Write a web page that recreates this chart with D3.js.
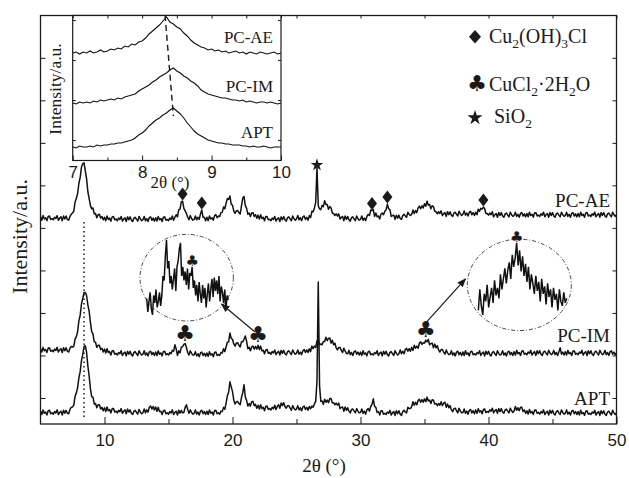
<!DOCTYPE html>
<html>
<head>
<meta charset="utf-8">
<script src="https://cdnjs.cloudflare.com/ajax/libs/d3/7.8.5/d3.min.js"></script>
<style>
    body { margin: 0; background: #fff; }
    svg { display: block; }
</style>
</head>
<body>
<svg id="chart" width="629" height="478"></svg>
<script>
// XRD patterns, 2theta grid 5..50 step 0.1, intensity in a.u. (curves stacked)
var thetaStart = 5, thetaStep = 0.1;
var aptCounts = [
    -31,-39,-28,-36,-33,-40,-30,-29,-37,-35, -38,-32,-35,-28,-39,-34,-31,-40,-29,-36,
    -29,-36,-37,-27,-22,-21,-17,4,12,24, 48,62,88,102,121,123,108,75,52,22,
    3,2,-14,-13,-23,-16,-16,-26,-22,-30, -23,-32,-21,-30,-27,-35,-25,-25,-33,-31,
    -35,-29,-32,-25,-36,-31,-28,-37,-26,-33, -28,-36,-39,-31,-29,-34,-38,-27,-33,-37,
    -35,-26,-35,-28,-33,-22,-19,-26,-20,-28, -21,-31,-22,-32,-31,-39,-30,-29,-37,-35,
    -38,-32,-35,-28,-39,-34,-31,-40,-29,-36, -29,-35,-34,-22,-16,-27,-36,-28,-34,-38,
    -36,-28,-38,-33,-40,-31,-29,-37,-32,-39, -31,-39,-28,-36,-33,-40,-30,-29,-37,-35,
    -38,-31,-32,-22,-27,-12,5,14,38,26, 15,-5,-14,-9,-8,-13,-16,1,12,31,
    3,-6,-19,-13,-19,-9,-8,-18,-15,-24, -17,-26,-16,-25,-22,-30,-20,-19,-27,-25,
    -28,-22,-25,-17,-27,-20,-16,-24,-12,-18, -11,-20,-24,-18,-18,-24,-29,-18,-24,-28,
    -26,-18,-28,-23,-30,-21,-19,-27,-22,-29, -20,-25,-19,-22,-14,-8,40,273,30,-8,
    -7,-15,-3,-10,-5,-11,-1,-1,-11,-11, -16,-12,-17,-12,-25,-22,-21,-31,-21,-29,
    -23,-31,-35,-27,-26,-31,-35,-25,-31,-35, -34,-26,-36,-31,-38,-28,-25,-31,-20,-15,
    -2,-20,-22,-34,-32,-40,-30,-30,-38,-36, -39,-33,-36,-29,-40,-35,-32,-41,-30,-37,
    -30,-38,-41,-32,-29,-33,-35,-22,-25,-25, -20,-9,-17,-10,-16,-6,-3,-10,-4,-10,
    -2,-9,2,-7,-5,-13,-4,-5,-14,-13, -18,-13,-17,-9,-18,-12,-10,-22,-14,-23,
    -18,-28,-32,-25,-24,-30,-35,-24,-31,-35, -34,-26,-36,-31,-38,-29,-27,-35,-30,-37,
    -28,-36,-25,-33,-30,-37,-27,-26,-34,-32, -34,-28,-31,-24,-35,-30,-27,-36,-25,-32,
    -25,-33,-36,-28,-26,-31,-35,-24,-30,-34, -30,-20,-29,-23,-30,-22,-22,-32,-28,-36,
    -30,-38,-27,-35,-32,-39,-29,-28,-36,-34, -38,-32,-35,-28,-39,-34,-31,-40,-29,-36,
    -29,-37,-40,-32,-30,-35,-39,-28,-34,-38, -36,-28,-38,-33,-40,-31,-29,-37,-32,-39,
    -32,-40,-29,-37,-34,-41,-31,-30,-38,-36, -39,-33,-36,-29,-40,-35,-32,-41,-30,-37,
    -30,-38,-41,-33,-31,-36,-40,-29,-35,-39, -35
];
var pcimCounts = [
    116,108,119,111,114,107,117,118,110,112, 109,115,112,119,108,113,116,107,118,111,
    118,110,108,117,121,120,121,139,144,156, 182,195,221,234,248,248,241,219,204,178,
    156,151,132,131,119,124,124,114,117,108, 115,106,116,107,109,101,111,111,103,105,
    101,107,104,111,100,105,108,99,110,103, 110,102,99,107,109,104,100,111,105,101,
    103,111,101,106,99,108,110,102,107,100, 108,100,111,103,106,99,109,110,102,104,
    101,107,104,112,110,125,115,100,111,106, 119,121,126,128,119,107,101,111,105,101,
    101,109,99,104,97,106,108,100,105,98, 106,98,109,101,104,97,107,108,100,102,
    100,107,106,116,109,120,131,132,153,140, 138,127,122,129,130,124,120,132,132,138,
    146,134,116,119,111,120,122,115,121,115, 124,114,122,111,112,104,113,114,105,107,
    103,109,106,113,102,107,110,101,112,105, 112,104,101,109,111,106,102,113,107,103,
    105,113,103,108,102,111,114,107,113,107, 116,109,122,116,122,119,134,137,125,127,
    125,133,133,143,135,140,141,129,136,125, 129,118,113,119,119,112,107,117,110,105,
    104,112,102,107,100,109,111,103,108,101, 108,100,111,103,106,99,109,110,102,104,
    101,107,104,111,100,105,108,99,110,103, 110,102,99,107,109,104,100,111,105,101,
    104,113,104,110,104,114,117,110,116,110, 119,112,124,117,122,117,129,132,126,130,
    129,136,132,138,125,128,129,118,127,118, 123,113,108,114,114,108,103,113,106,102,
    103,111,101,106,99,108,110,102,107,100, 108,100,111,103,106,99,109,110,102,104,
    101,107,104,111,100,105,108,99,110,103, 110,102,99,107,109,104,100,111,105,101,
    103,111,101,106,99,108,110,102,107,100, 109,101,112,104,107,100,110,111,103,105,
    102,108,105,112,101,106,109,100,111,104, 111,103,100,108,110,105,101,112,106,102,
    104,112,102,107,100,109,118,103,108,101, 109,101,112,104,107,100,110,111,103,105,
    102,108,105,112,101,106,109,100,111,104, 111,103,100,108,110,105,101,112,106,102,
    104,112,102,107,100,109,111,103,108,101, 106
];
var pcaeCounts = [
    426,418,429,421,424,417,427,428,420,422, 419,425,422,429,418,423,426,417,428,421,
    428,420,418,427,432,435,439,461,469,481, 505,519,543,551,553,534,516,485,469,453,
    445,447,433,434,424,431,432,423,427,419, 425,417,428,420,423,416,426,427,419,421,
    417,423,420,427,416,421,424,415,426,419, 426,418,415,423,425,420,416,427,421,417,
    419,427,417,422,415,424,426,418,423,416, 424,416,427,419,422,415,425,426,418,420,
    417,423,420,428,418,425,431,426,443,444, 461,463,446,440,434,425,419,429,422,418,
    420,428,419,425,420,433,442,425,425,417, 425,417,428,421,424,418,429,431,424,428,
    427,436,437,449,445,458,469,467,475,456, 453,440,434,440,441,436,433,451,470,474,
    453,446,432,435,427,435,436,427,431,423, 430,421,431,422,425,417,427,427,419,420,
    417,423,420,427,416,421,424,415,426,419, 427,419,416,424,426,421,417,428,422,418,
    421,429,419,424,417,426,428,420,425,418, 429,424,439,438,447,460,541,452,445,443,
    453,450,464,455,455,444,450,447,435,434, 429,433,428,433,421,425,427,417,428,420,
    427,419,416,424,426,421,417,428,422,418, 420,428,418,423,417,427,432,429,442,441,
    443,427,435,426,428,421,432,435,431,439, 443,456,445,443,427,429,430,420,430,423,
    430,422,420,429,432,428,425,437,432,429, 432,442,434,441,436,447,451,445,452,447,
    457,451,463,454,455,445,452,450,439,438, 433,438,434,440,429,433,436,427,438,431,
    438,430,427,435,437,432,428,439,433,429, 432,440,430,435,428,437,439,431,436,429,
    437,431,444,439,446,444,449,445,434,434, 430,435,431,438,426,431,434,425,436,429,
    436,428,425,433,435,430,426,437,431,427, 429,437,427,432,425,434,436,428,433,426,
    434,426,437,429,432,425,435,436,428,430, 427,433,430,437,426,431,434,425,436,429,
    436,428,425,433,435,430,426,437,431,427, 429,437,427,432,425,434,436,428,433,426,
    434,426,437,429,432,425,435,436,428,430, 427,433,430,437,426,431,434,425,436,429,
    436,428,425,433,435,430,426,437,431,427, 431
];
var seriesLabels = ["PC-AE", "PC-IM", "APT"];
var xTicks = [10, 20, 30, 40, 50];
var xMinorTicks = [15, 25, 35, 45];
var yTicks = [0, 100, 200, 300, 400, 500, 600, 700, 800];

// inset: 7..10 deg, step 0.05
var insetStart = 7, insetStep = 0.05;
var insetAE = [
    107,108,106,108,107,109,107,108,110,108, 109,111,110,112,111,114,113,116,115,118,
    119,122,126,129,132,135,139,143,138,136, 133,131,127,124,120,117,115,113,112,110,
    111,109,110,108,109,107,108,109,107,108, 106,108,107,106,108,107,106,107,108,106,107
];
var insetIM = [
    57,56,58,57,58,57,59,58,60,59, 60,61,60,62,61,63,64,65,66,69,
    71,73,75,78,80,83,85,87,90,92, 89,87,84,82,79,77,74,70,68,66,
    65,64,63,62,62,61,60,60,59,60, 58,59,58,57,58,58,57,58,57,56,57
];
var insetAPT = [
    13,12,14,13,13,14,13,15,14,15, 15,16,16,17,17,18,19,20,22,25,
    27,30,34,37,40,42,45,47,50,52, 49,46,42,37,33,29,26,24,22,20,
    19,18,17,17,16,16,15,15,15,14, 14,13,14,13,13,14,13,12,13,13,13
];
var insetTicks = [7, 8, 9, 10];
var insetMinorTicks = [7.5, 8.5, 9.5];
var peakShift = [[8.33, 145], [8.45, 44]];

// phase marks
var diamondPeaks = [16.1, 17.6, 30.9, 32.1, 39.6];   // Cu2(OH)3Cl, PC-AE
var starPeaks = [26.6];                               // SiO2, PC-AE
var clubPeaks = [16.3, 22.0, 35.1];                   // CuCl2.2H2O, PC-IM

// magnified parts of PC-IM shown in the dashed circles
var magLeftStart = 18.1, magLeftStep = 0.1;
var magLeft = [
    106,97,104,110,99,95,108,103,112,100, 104,110,101,108,121,118,134,145,126,131,
    116,121,112,119,126,111,127,131,139,143, 121,127,118,124,115,126,112,123,121,127,
    113,118,108,115,104,117,109,103,115,106, 113,100,109,116,104,112,119,107,120,111,
    118,109,121,104,114,110,103,112,99,108,105
];
var magRightStart = 33.0, magRightStep = 0.075;
var magRight = [
    98,112,101,95,109,104,115,100,107,113, 103,118,108,113,106,122,112,119,126,116,
    125,130,119,135,127,133,143,128,138,124, 134,121,129,117,127,112,122,116,109,121,
    111,117,104,119,109,114,102,116,107,112, 100,113,105,109,98,112,104,101,110,103,106
];

var serif = "'Liberation Serif', 'Times New Roman', serif",
    sans = "'Liberation Sans', Arial, sans-serif",
    symbolFont = "'DejaVu Sans', sans-serif",
    ink = "#1a1a1a";

var svg = d3.select("#chart");
var plot = { left: 40.5, right: 616.5, top: 15.5, bottom: 424 };

var x = d3.scaleLinear().domain([5, 50]).range([plot.left, plot.right]),
    y = d3.scaleLinear().domain([-60, 900]).range([423.5, 15.3]);

function valueAt(arr, theta) {
    return arr[Math.round((theta - thetaStart) / thetaStep)];
}

var mainLine = d3.line()
    .x(function(d, i) { return x(thetaStart + i * thetaStep); })
    .y(function(d) { return y(d); });

// arrow head
svg.append("defs").append("marker")
    .attr("id", "arrow")
    .attr("viewBox", "0 0 10 10")
    .attr("refX", 9).attr("refY", 5)
    .attr("markerWidth", 9).attr("markerHeight", 9)
    .attr("markerUnits", "userSpaceOnUse")
    .attr("orient", "auto")
    .append("path").attr("d", "M0,1L10,5L0,9Z").attr("fill", ink);

// main traces
[pcaeCounts, pcimCounts, aptCounts].forEach(function(s) {
    svg.append("path")
        .attr("d", mainLine(s))
        .attr("fill", "none")
        .attr("stroke", "#111")
        .attr("stroke-width", 1.5)
        .attr("stroke-linejoin", "round");
});

// dotted guide through the 8.4 deg reflection
svg.append("line")
    .attr("x1", x(8.4)).attr("x2", x(8.4))
    .attr("y1", y(414)).attr("y2", y(-50))
    .attr("stroke", ink).attr("stroke-width", 1.5)
    .attr("stroke-dasharray", "1.5,3");

// phase markers
var diamondPath = "M0,-6.5L5,0L0,6.5L-5,0Z";
svg.selectAll("path.dia").data(diamondPeaks).enter().append("path")
    .attr("class", "dia")
    .attr("d", diamondPath)
    .attr("fill", ink)
    .attr("transform", function(d) { return "translate(" + x(d) + "," + (y(valueAt(pcaeCounts, d)) - 7) + ")"; });

svg.selectAll("path.star").data(starPeaks).enter().append("path")
    .attr("class", "star")
    .attr("d", d3.symbol(d3.symbolStar, 50))
    .attr("fill", ink)
    .attr("transform", function(d) { return "translate(" + x(d) + "," + (y(valueAt(pcaeCounts, d)) - 3) + ")"; });

svg.selectAll("text.club").data(clubPeaks).enter().append("text")
    .attr("class", "club")
    .attr("x", function(d) { return x(d); })
    .attr("y", function(d) { return y(valueAt(pcimCounts, d)) - 3; })
    .attr("text-anchor", "middle")
    .attr("font-family", symbolFont)
    .attr("font-size", 22)
    .attr("fill", ink)
    .text("\u2663");

// magnified circles with arrows
var circles = [
    { c: [16.42, 283], rx: 46.7, ry: 43.3, data: magLeft, start: magLeftStart, step: magLeftStep,
      xr: [-40, 41.6], base: 22.3, club: 22.0, from: [21.76, 155], to: [19.14, 221] },
    { c: [42.41, 266], rx: 52, ry: 45.7, data: magRight, start: magRightStart, step: magRightStep,
      xr: [-41, 47.4], base: 15, club: 34.95, from: [34.96, 172], to: [38.2, 280] }
];
circles.forEach(function(m) {
    var cx = x(m.c[0]), cy = y(m.c[1]);
    svg.append("ellipse")
        .attr("cx", cx).attr("cy", cy).attr("rx", m.rx).attr("ry", m.ry)
        .attr("fill", "none").attr("stroke", "#333").attr("stroke-width", 0.9)
        .attr("stroke-dasharray", "4,2,1,2");
    var n = m.data.length;
    var mx = d3.scaleLinear().domain([m.start, m.start + (n - 1) * m.step]).range([cx + m.xr[0], cx + m.xr[1]]),
        my = d3.scaleLinear().domain([105, 145]).range([cy + m.base, cy + m.base - 60]);
    svg.append("path")
        .attr("d", d3.line()
            .x(function(d, i) { return mx(m.start + i * m.step); })
            .y(function(d) { return my(d); })(m.data))
        .attr("fill", "none").attr("stroke", "#111").attr("stroke-width", 1.5);
    var ci = Math.round((m.club - m.start) / m.step);
    svg.append("text")
        .attr("x", mx(m.club)).attr("y", my(m.data[ci]) - 1)
        .attr("text-anchor", "middle")
        .attr("font-family", symbolFont)
        .attr("font-size", 15)
        .attr("fill", ink)
        .text("\u2663");
    svg.append("line")
        .attr("x1", x(m.from[0])).attr("y1", y(m.from[1]))
        .attr("x2", x(m.to[0])).attr("y2", y(m.to[1]))
        .attr("stroke", ink).attr("stroke-width", 1.2)
        .attr("marker-end", "url(#arrow)");
});

// series labels
var labelY = [206.7, 341.7, 405];
seriesLabels.forEach(function(t, i) {
    svg.append("text")
        .attr("x", 610).attr("y", labelY[i])
        .attr("text-anchor", "end")
        .attr("font-family", serif).attr("font-size", 19)
        .attr("fill", ink)
        .text(t);
});

// axes
function styleAxis(g, size) {
    g.select(".domain").remove();
    g.selectAll("line").attr("stroke", ink).attr("stroke-width", 1);
    g.attr("font-family", sans).attr("font-size", size || 17);
    g.selectAll("text").attr("fill", ink);
}
svg.append("g")
    .attr("transform", "translate(0," + plot.bottom + ")")
    .call(d3.axisBottom(x).tickValues(xTicks).tickSize(-7).tickPadding(10).tickFormat(d3.format("d")))
    .call(styleAxis);
svg.append("g")
    .attr("transform", "translate(0," + plot.bottom + ")")
    .call(d3.axisBottom(x).tickValues(xMinorTicks).tickSize(-5).tickFormat(""))
    .call(styleAxis);
svg.append("g")
    .attr("transform", "translate(0," + plot.top + ")")
    .call(d3.axisTop(x).tickValues(xMinorTicks.concat(xTicks)).tickSize(-3).tickFormat(""))
    .call(styleAxis);
svg.append("g")
    .attr("transform", "translate(" + plot.left + ",0)")
    .call(d3.axisLeft(y).tickValues(yTicks).tickSize(-5).tickFormat(""))
    .call(styleAxis);
svg.append("g")
    .attr("transform", "translate(" + plot.right + ",0)")
    .call(d3.axisRight(y).tickValues(yTicks).tickSize(-4).tickFormat(""))
    .call(styleAxis);

svg.append("rect")
    .attr("x", plot.left).attr("y", plot.top)
    .attr("width", plot.right - plot.left).attr("height", plot.bottom - plot.top)
    .attr("fill", "none").attr("stroke", ink).attr("stroke-width", 1.3);

svg.append("text")
    .attr("x", 324).attr("y", 472)
    .attr("text-anchor", "middle")
    .attr("font-family", serif).attr("font-size", 19).attr("fill", ink)
    .text("2\u03b8 (\u00b0)");
svg.append("text")
    .attr("transform", "translate(27,236.5) rotate(-90)")
    .attr("text-anchor", "middle")
    .attr("font-family", serif).attr("font-size", 22).attr("fill", ink)
    .text("Intensity/a.u.");

// legend
var legend = [
    { sym: "diamond", y: 43.3, parts: [["Cu", 0], ["2", 1], ["(OH)", 0], ["3", 1], ["Cl", 0]] },
    { sym: "club", y: 91.3, parts: [["CuCl", 0], ["2", 1], ["\u00b72H", 0], ["2", 1], ["O", 0]] },
    { sym: "star", y: 123.3, parts: [["SiO", 0], ["2", 1]] }
];
legend.forEach(function(l) {
    if (l.sym === "diamond") {
        svg.append("path").attr("d", "M0,-6.8L6,0L0,6.8L-6,0Z").attr("fill", ink)
            .attr("transform", "translate(475," + (l.y - 6.5) + ")");
    } else if (l.sym === "club") {
        svg.append("text").attr("x", 477).attr("y", l.y).attr("text-anchor", "middle")
            .attr("font-family", symbolFont).attr("font-size", 22)
            .attr("fill", ink).text("\u2663");
    } else {
        svg.append("path").attr("d", d3.symbol(d3.symbolStar, 70)).attr("fill", ink)
            .attr("transform", "translate(475," + (l.y - 5.5) + ")");
    }
    var t = svg.append("text")
        .attr("x", l.sym === "star" ? 494 : 489).attr("y", l.y)
        .attr("font-family", serif).attr("font-size", 20).attr("fill", ink);
    var shifted = 0;
    l.parts.forEach(function(p) {
        var dy = p[1] ? 5 - shifted : -shifted;
        shifted = p[1] ? 5 : 0;
        t.append("tspan").attr("dy", dy).attr("font-size", p[1] ? 13.5 : 20).text(p[0]);
    });
});

// inset
var inset = { left: 72.7, right: 281, top: 15.5, bottom: 160.5 };
var ix = d3.scaleLinear().domain([7, 10]).range([inset.left, inset.right]),
    iy = d3.scaleLinear().domain([0, 145]).range([160, 15]);

svg.append("rect")
    .attr("x", inset.left).attr("y", inset.top)
    .attr("width", inset.right - inset.left).attr("height", inset.bottom - inset.top)
    .attr("fill", "#fff");

var insetLine = d3.line()
    .x(function(d, i) { return ix(insetStart + i * insetStep); })
    .y(function(d) { return iy(d); });
[insetAE, insetIM, insetAPT].forEach(function(s) {
    svg.append("path")
        .attr("d", insetLine(s))
        .attr("fill", "none").attr("stroke", "#111").attr("stroke-width", 1.1);
});
svg.append("path")
    .attr("d", d3.line().x(function(d) { return ix(d[0]); }).y(function(d) { return iy(d[1]); })(peakShift))
    .attr("stroke", ink).attr("stroke-width", 1.4).attr("stroke-dasharray", "6,4");

var insetLabelY = [43.3, 91.7, 138.3];
seriesLabels.forEach(function(t, i) {
    svg.append("text")
        .attr("x", 273).attr("y", insetLabelY[i])
        .attr("text-anchor", "end")
        .attr("font-family", serif).attr("font-size", 17).attr("fill", ink)
        .text(t);
});

svg.append("g")
    .attr("transform", "translate(0," + inset.bottom + ")")
    .call(d3.axisBottom(ix).tickValues(insetTicks).tickSize(-5).tickPadding(5.5).tickFormat(d3.format("d")))
    .call(styleAxis);
svg.append("g")
    .attr("transform", "translate(0," + inset.bottom + ")")
    .call(d3.axisBottom(ix).tickValues(insetMinorTicks).tickSize(-3).tickFormat(""))
    .call(styleAxis);
svg.append("g")
    .attr("transform", "translate(0," + inset.top + ")")
    .call(d3.axisTop(ix).tickValues(insetMinorTicks.concat(insetTicks)).tickSize(-3).tickFormat(""))
    .call(styleAxis);
svg.append("g")
    .attr("transform", "translate(" + inset.left + ",0)")
    .call(d3.axisLeft(iy).tickValues([20, 60, 100, 140]).tickSize(-3).tickFormat(""))
    .call(styleAxis);
svg.append("g")
    .attr("transform", "translate(" + inset.right + ",0)")
    .call(d3.axisRight(iy).tickValues([20, 60, 100, 140]).tickSize(-3).tickFormat(""))
    .call(styleAxis);
svg.append("rect")
    .attr("x", inset.left).attr("y", inset.top)
    .attr("width", inset.right - inset.left).attr("height", inset.bottom - inset.top)
    .attr("fill", "none").attr("stroke", ink).attr("stroke-width", 1.2);

svg.append("text")
    .attr("x", 170).attr("y", 187.5)
    .attr("text-anchor", "middle")
    .attr("font-family", serif).attr("font-size", 17).attr("fill", ink)
    .text("2\u03b8 (\u00b0)");
svg.append("text")
    .attr("transform", "translate(61,89) rotate(-90)")
    .attr("text-anchor", "middle")
    .attr("font-family", serif).attr("font-size", 17.5).attr("fill", ink)
    .text("Intensity/a.u.");
</script>
</body>
</html>
